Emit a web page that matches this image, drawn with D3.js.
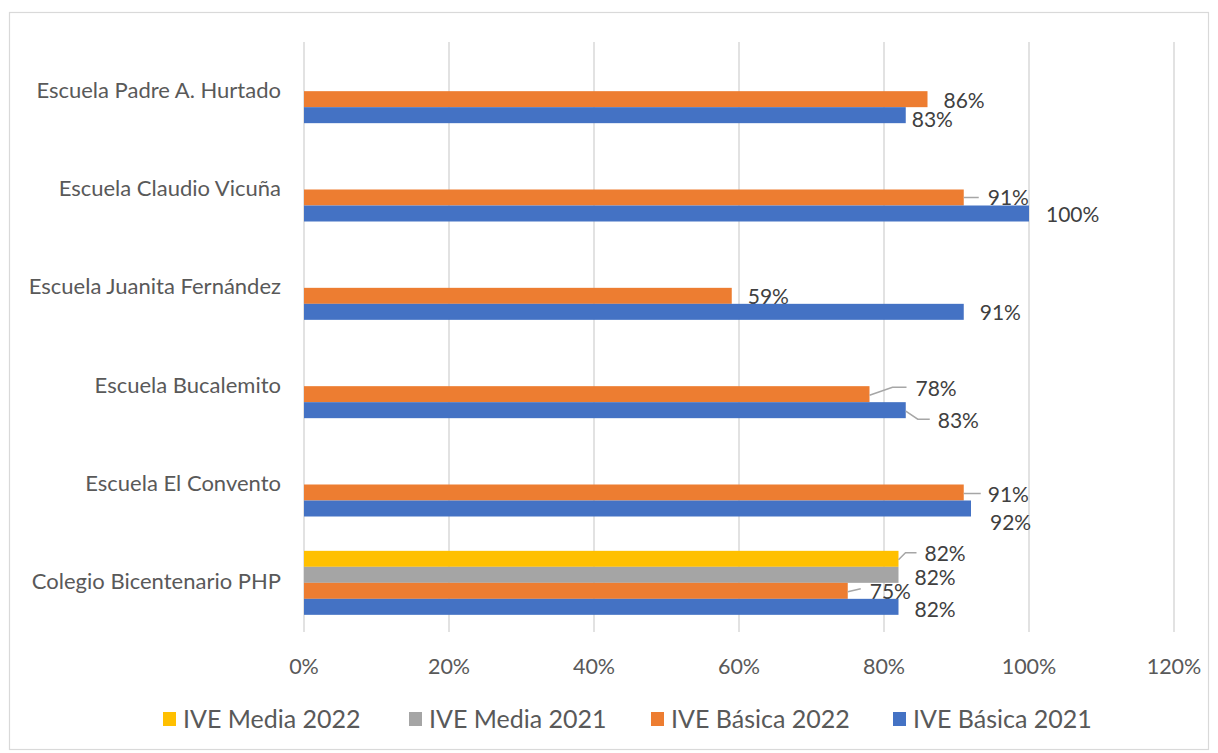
<!DOCTYPE html>
<html>
<head>
<meta charset="utf-8">
<script src="https://cdn.jsdelivr.net/npm/d3@7"></script>
<style>
  body { margin: 0; background: #fff; }
  svg { font-family: Lato, "Open Sans", sans-serif; }
  .gridLine { stroke: #d9d9d9; stroke-width: 1.5; }
  .catLabel { fill: #595959; font-size: 22px; }
  .tickLabel { fill: #595959; font-size: 21.5px; }
  .valLabel { fill: #404040; font-size: 21px; }
  .legendText { fill: #595959; font-size: 25px; }
  .leader { stroke: #a6a6a6; stroke-width: 1.5; fill: none; }
</style>
</head>
<body>
<script>
(function(){
    //categories top to bottom
    var categories = ["Escuela Padre A. Hurtado", "Escuela Claudio Vicuña", "Escuela Juanita Fernández",
        "Escuela Bucalemito", "Escuela El Convento", "Colegio Bicentenario PHP"];
    //series in order from top bar to bottom bar in each group
    var seriesNames = ["IVE Media 2022", "IVE Media 2021", "IVE Básica 2022", "IVE Básica 2021"];
    var mediaValues2022 = [null, null, null, null, null, 0.82];
    var mediaValues2021 = [null, null, null, null, null, 0.82];
    var basicaValues2022 = [0.86, 0.91, 0.59, 0.78, 0.91, 0.75];
    var basicaValues2021 = [0.83, 1.00, 0.91, 0.83, 0.92, 0.82];
    var xTicks = [0, 0.2, 0.4, 0.6, 0.8, 1.0, 1.2];

    var seriesColors = ["#ffc000", "#a5a5a5", "#ed7d31", "#4472c4"];
    var seriesValues = [mediaValues2022, mediaValues2021, basicaValues2022, basicaValues2021];

    //label placement relative to bar end: [dx, dy, leader points] (labels were dragged in Excel)
    var labelOffsets = [
        [null, null, null, null, null, [26, -5, [[0, 1], [7, -6], [18, -6]]]],
        [null, null, null, null, null, [16, 2.5, null]],
        [[16, 1, null], [24, 0, [[0, 0], [15, 0]]], [16, 1, null],
         [46, -6, [[0, 1], [23, -7], [37, -7]]], [24, 2, [[0, 1], [17, 1]]], [22, 0.5, [[0, 1], [13, -2]]]],
        [[6, 4, null], [17, 1, null], [16, 1, null],
         [32, 10, [[0, 1], [12, 9], [24, 9]]], [19, 13.5, null], [16, 2.5, null]]
    ];

    var width = 1218, height = 753;
    var svg = d3.select("body").append("svg")
        .attr("width", width)
        .attr("height", height);

    //chart border
    svg.append("rect")
        .attr("x", 9.5).attr("y", 12.5)
        .attr("width", 1199).attr("height", 737)
        .attr("fill", "#fff")
        .attr("stroke", "#d9d9d9")
        .attr("stroke-width", 1.2);

    var x = d3.scaleLinear().domain([0, 1.2]).range([304, 1174]);
    var y = d3.scaleBand().domain(categories).range([42, 632]);
    var barH = 16;
    var inner = d3.scaleBand().domain(seriesNames)
        .range([(y.bandwidth() - barH * 4) / 2, (y.bandwidth() + barH * 4) / 2]);

    //vertical grid lines
    svg.selectAll(".gridLine")
        .data(xTicks)
        .enter()
        .append("line")
        .attr("class", "gridLine")
        .attr("x1", function(d){ return x(d); })
        .attr("x2", function(d){ return x(d); })
        .attr("y1", 42)
        .attr("y2", 632);

    //x tick labels
    svg.selectAll(".tickLabel")
        .data(xTicks)
        .enter()
        .append("text")
        .attr("class", "tickLabel")
        .attr("x", function(d){ return x(d); })
        .attr("y", 674)
        .attr("text-anchor", "middle")
        .text(function(d){ return d3.format(".0%")(d); });

    //category labels
    svg.selectAll(".catLabel")
        .data(categories)
        .enter()
        .append("text")
        .attr("class", "catLabel")
        .attr("x", 281)
        .attr("y", function(d){ return y(d) + y.bandwidth() / 2 + 6.5; })
        .attr("text-anchor", "end")
        .text(function(d){ return d; });

    //bars
    seriesNames.forEach(function(s, si){
        var rows = categories.map(function(c, ci){
            return {cat: c, value: seriesValues[si][ci], off: labelOffsets[si][ci]};
        }).filter(function(d){ return d.value != null; });

        svg.selectAll(".bar" + si)
            .data(rows)
            .enter()
            .append("rect")
            .attr("class", "bar" + si)
            .attr("x", x(0))
            .attr("y", function(d){ return y(d.cat) + inner(s); })
            .attr("width", function(d){ return x(d.value) - x(0); })
            .attr("height", inner.bandwidth())
            .attr("fill", seriesColors[si]);

        //leader lines
        rows.forEach(function(d){
            var ex = x(d.value), cy = y(d.cat) + inner(s) + inner.bandwidth() / 2;
            var pts = d.off[2];
            if (pts) {
                svg.append("path")
                    .attr("class", "leader")
                    .attr("d", d3.line()(pts.map(function(p){ return [ex + p[0], cy + p[1]]; })));
            }
        });

        //value labels
        svg.selectAll(".val" + si)
            .data(rows)
            .enter()
            .append("text")
            .attr("class", "valLabel")
            .attr("x", function(d){ return x(d.value) + d.off[0]; })
            .attr("y", function(d){ return y(d.cat) + inner(s) + inner.bandwidth() / 2 + d.off[1] + 7.5; })
            .text(function(d){ return d3.format(".0%")(d.value); });
    });

    //legend
    var legendX = [163, 409, 651, 893];
    var legend = svg.selectAll(".legendItem")
        .data(seriesNames)
        .enter()
        .append("g")
        .attr("class", "legendItem")
        .attr("transform", function(d, i){ return "translate(" + legendX[i] + ",719)"; });
    legend.append("rect")
        .attr("x", 0).attr("y", -7)
        .attr("width", 13).attr("height", 14)
        .attr("fill", function(d, i){ return seriesColors[i]; });
    legend.append("text")
        .attr("class", "legendText")
        .attr("x", 20)
        .attr("y", 8.5)
        .text(function(d){ return d; });
})();
</script>
</body>
</html>
